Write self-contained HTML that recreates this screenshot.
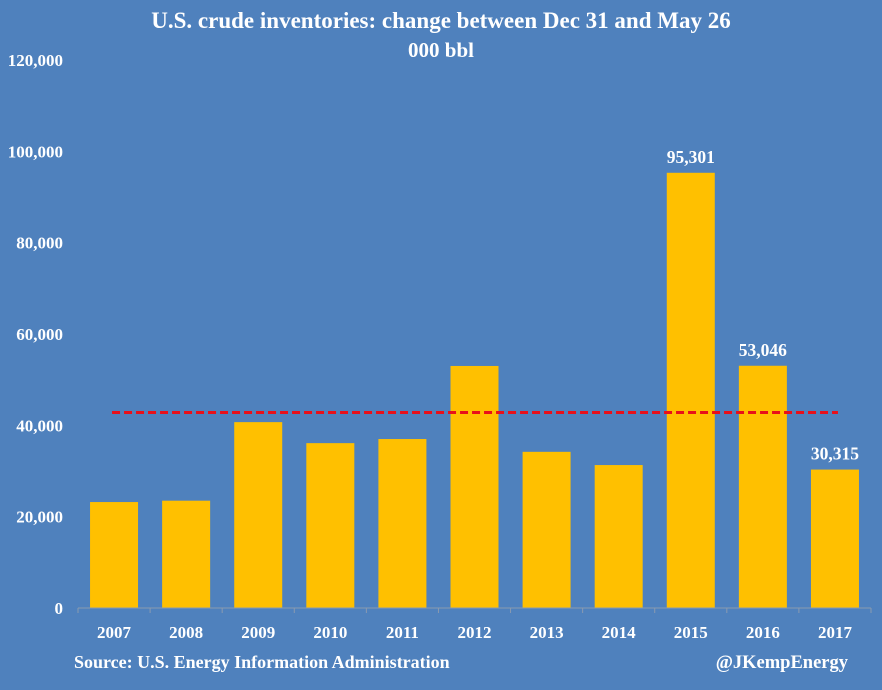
<!DOCTYPE html>
<html><head><meta charset="utf-8"><style>
body{margin:0;background:#4f81bd;}
svg{display:block;font-family:"Liberation Serif",serif;font-weight:bold;}
</style></head><body>
<svg id="chart" width="882" height="690">
<rect width="882" height="690" fill="#4f81bd"/>
<text x="441" y="28" text-anchor="middle" fill="#fff" font-size="23">U.S. crude inventories: change between Dec 31 and May 26</text>
<text x="441" y="57" text-anchor="middle" fill="#fff" font-size="21">000 bbl</text>
<text x="74" y="668" fill="#fff" font-size="18">Source: U.S. Energy Information Administration</text>
<text x="848" y="668" text-anchor="end" fill="#fff" font-size="18.5">@JKempEnergy</text>
<g id="plot"></g>
</svg>
<script>
const categories=["2007","2008","2009","2010","2011","2012","2013","2014","2015","2016","2017"];
const values=[23200,23500,40700,36100,37000,53000,34200,31300,95301,53046,30315];
const labels=["","","","","","","","","95,301","53,046","30,315"];
const yTicks=[0,20000,40000,60000,80000,100000,120000];
const yTickLabels=["0","20,000","40,000","60,000","80,000","100,000","120,000"];
const averageValue=[42800];
const x0=78,x1=871,yBase=608,yTop=60,yMax=120000;
const bw=(x1-x0)/categories.length;
const y=v=>yBase-(v/yMax)*(yBase-yTop);
const xc=i=>x0+bw*(i+0.5);
const g=document.getElementById('plot');
const NS="http://www.w3.org/2000/svg";
function mk(t,a){const e=document.createElementNS(NS,t);for(const k in a)e.setAttribute(k,a[k]);g.appendChild(e);return e;}
yTicks.forEach((t,i)=>{
 const e=mk('text',{x:63,y:y(t)+6,'text-anchor':'end',fill:'#fff','font-size':17});
 e.textContent=yTickLabels[i];
 
 
});
values.forEach((v,i)=>{
 const r=mk('rect',{x:xc(i)-24,y:y(v),width:48,height:yBase-y(v),fill:'#ffc000'});
 
 
 if(labels[i]){
  const t=mk('text',{x:xc(i),y:y(v)-10,'text-anchor':'middle',fill:'#fff','font-size':17.5});
  t.textContent=labels[i];
  
  
 }
 const c=mk('text',{x:xc(i),y:638,'text-anchor':'middle',fill:'#fff','font-size':17});
 c.textContent=categories[i];
 
 
});
const ax=mk('line',{x1:x0,y1:yBase,x2:x1,y2:yBase,stroke:'#8a9ab0','stroke-width':1});


for(let i=0;i<=categories.length;i++){
 const tk=mk('line',{x1:x0+bw*i,y1:yBase,x2:x0+bw*i,y2:yBase+5,stroke:'#8a9ab0','stroke-width':1});
 
 
}
const avg=mk('line',{x1:xc(0)-2,y1:y(averageValue[0]),x2:xc(10)+3,y2:y(averageValue[0]),stroke:'#e8101a','stroke-width':3,'stroke-dasharray':'8,4'});


</script>
</body></html>
